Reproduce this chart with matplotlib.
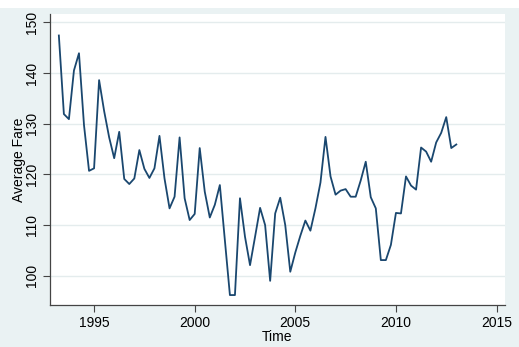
import numpy as np
import matplotlib.pyplot as plt
from matplotlib.patches import Rectangle

# quarterly average fare, 1993q2 .. 2013q1
start_year = 1993.25
fares = [147.4, 131.9, 130.9, 140.5, 143.9, 129.7, 120.7, 121.2,
         138.6, 132.5, 127.3, 123.2, 128.4, 119.1, 118.1, 119.2,
         124.8, 121.1, 119.3, 121.2, 127.6, 119.2, 113.3, 115.6,
         127.3, 115.3, 111.0, 112.2, 125.2, 116.6, 111.5, 114.0,
         117.9, 107.0, 96.2, 96.2, 115.3, 107.7, 102.1, 107.7,
         113.4, 110.0, 99.0, 112.3, 115.4, 110.0, 100.8, 104.6,
         107.9, 110.9, 108.9, 113.3, 118.4, 127.4, 119.6, 116.0,
         116.8, 117.1, 115.6, 115.6, 118.8, 122.5, 115.5, 113.3,
         103.1, 103.1, 106.1, 112.4, 112.3, 119.6, 117.8, 117.0,
         125.3, 124.5, 122.5, 126.3, 128.2, 131.3, 125.2, 125.9]
x_ticks = [1995, 2000, 2005, 2010, 2015]
y_ticks = [100, 110, 120, 130, 140, 150]

time = start_year + 0.25 * np.arange(len(fares))

bg = '#eaf2f3'
navy = '#1a476f'
plt.rcParams['font.family'] = ['Liberation Sans', 'DejaVu Sans']

fig = plt.figure(figsize=(5.19, 3.47), dpi=100, facecolor=bg)
W, H = 519, 347
ax = fig.add_axes([50 / W, 1 - 305 / H, 455 / W, 291 / H])
ax.set_facecolor('white')

# white strip at the very top (cropped title area)
fig.patches.append(Rectangle((0, 1 - 8 / H), 1, 8 / H, transform=fig.transFigure,
                             facecolor='white', edgecolor='none', zorder=-1))

ax.plot(time, fares, color=navy, linewidth=1.3)

ax.set_xlim(1992.81, 2015.42)
ax.set_ylim(94.24, 151.64)
ax.set_xticks(x_ticks)
ax.set_yticks(y_ticks)
ax.tick_params(axis='y', labelrotation=90, length=5, color='#444444', labelsize=10, pad=3)
ax.tick_params(axis='x', length=5, color='#444444', labelsize=10, pad=3)
for lab in ax.get_yticklabels():
    lab.set_va('center')
ax.grid(axis='y', color='#e4eced', linewidth=1)
ax.set_axisbelow(True)

for side in ['top', 'right']:
    ax.spines[side].set_visible(False)
for side in ['left', 'bottom']:
    ax.spines[side].set_color('#444444')
    ax.spines[side].set_linewidth(0.9)

ax.set_xlabel('Time', fontsize=10, labelpad=0)
ax.set_ylabel('Average Fare', fontsize=10, labelpad=-1)

fig.savefig('out.png', dpi=100, facecolor=bg)
